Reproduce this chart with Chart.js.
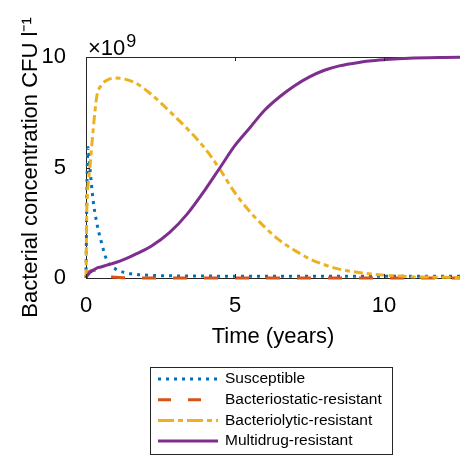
<!DOCTYPE html>
<html>
<head>
<meta charset="utf-8">
<script src="https://cdn.jsdelivr.net/npm/chart.js@4/dist/chart.umd.min.js"></script>
<style>
  body { margin: 0; background: #fff; overflow: hidden; }
</style>
</head>
<body>
<canvas id="grafico" width="460" height="456"></canvas>
<script>
// time in years
const tiempo = [0, 0.03, 0.07, 0.13, 0.24, 0.36, 0.5, 0.7, 1.0, 1.3, 1.7, 2.2, 2.8, 3.4, 4, 4.5, 5, 5.5, 6, 6.5, 7, 7.5, 8, 8.5, 9, 9.5, 10, 10.5, 11, 11.5, 12, 12.55];

// concentrations, x10^9 CFU/l
const susceptible = [0, 4.0, 5.9, 5.0, 3.5, 2.5, 1.7, 0.8, 0.4, 0.25, 0.16, 0.12, 0.1, 0.09, 0.09, 0.08, 0.08, 0.08, 0.08, 0.08, 0.08, 0.08, 0.08, 0.08, 0.08, 0.08, 0.08, 0.08, 0.08, 0.08, 0.08, 0.08];
const bacteriostatic = [0, 0.15, 0.25, 0.3, 0.35, 0.35, 0.25, 0.1, 0.03, 0.01, 0, 0, 0, 0, 0, 0, 0, 0, 0, 0, 0, 0, 0, 0, 0, 0, 0, 0, 0, 0, 0, 0];
const bacteriolytic = [0, 3.3, 4.2, 5.0, 6.7, 8.2, 8.7, 8.95, 9.05, 9.0, 8.8, 8.3, 7.55, 6.75, 5.85, 4.9, 3.85, 3.0, 2.3, 1.7, 1.25, 0.87, 0.6, 0.4, 0.28, 0.19, 0.13, 0.09, 0.05, 0.04, 0.03, 0.02];
const multidrug = [0, 0.08, 0.15, 0.25, 0.35, 0.45, 0.5, 0.58, 0.7, 0.85, 1.1, 1.45, 2.05, 2.9, 4.0, 5.0, 6.0, 6.8, 7.6, 8.2, 8.7, 9.1, 9.4, 9.6, 9.72, 9.82, 9.88, 9.92, 9.95, 9.97, 9.98, 9.99];

const etiquetas = ['Susceptible', 'Bacteriostatic-resistant', 'Bacteriolytic-resistant', 'Multidrug-resistant'];
const ticksX = [0, 5, 10];
const ticksY = [0, 5, 10];

const fuente = '"Liberation Sans", Arial, Helvetica, sans-serif';
const ejeColor = '#262626';

function puntos(valores) {
  return tiempo.map((t, i) => ({ x: t, y: valores[i] }));
}

// legend box drawn like the MATLAB one
const leyendaPlugin = {
  id: 'leyenda',
  afterDraw(chart) {
    const ctx = chart.ctx;
    const x0 = 150, y0 = 367, w = 242, h = 87;
    ctx.save();
    ctx.fillStyle = '#fff';
    ctx.fillRect(x0, y0, w, h);
    ctx.strokeStyle = ejeColor;
    ctx.lineWidth = 1;
    ctx.strokeRect(x0 + 0.5, y0 + 0.5, w, h);
    chart.data.datasets.forEach((ds, i) => {
      const y = y0 + 12 + i * 20.7;
      ctx.strokeStyle = ds.borderColor;
      ctx.lineWidth = ds.borderWidth;
      ctx.setLineDash(ds.legendDash || ds.borderDash || []);
      ctx.beginPath();
      ctx.moveTo(x0 + 8, y);
      ctx.lineTo(x0 + 68, y);
      ctx.stroke();
      ctx.setLineDash([]);
      ctx.fillStyle = '#000';
      ctx.font = '15.5px ' + fuente;
      ctx.textBaseline = 'middle';
      ctx.textAlign = 'left';
      ctx.fillText(ds.label, x0 + 75, y);
    });
    ctx.restore();
  }
};

// x10^9 exponent label and inward tick marks
const ejesPlugin = {
  id: 'ejes',
  afterDraw(chart) {
    const ctx = chart.ctx;
    const area = chart.chartArea;
    const sx = chart.scales.x, sy = chart.scales.y;
    ctx.save();
    ctx.strokeStyle = ejeColor;
    ctx.lineWidth = 1;
    ticksX.forEach(v => {
      const px = Math.round(sx.getPixelForValue(v)) + 0.5;
      ctx.beginPath();
      ctx.moveTo(px, area.bottom);
      ctx.lineTo(px, area.bottom - 4);
      ctx.moveTo(px, area.top);
      ctx.lineTo(px, area.top + 4);
      ctx.stroke();
    });
    ticksY.forEach(v => {
      const py = Math.round(sy.getPixelForValue(v)) + 0.5;
      ctx.beginPath();
      ctx.moveTo(area.left, py);
      ctx.lineTo(area.left + 4, py);
      ctx.stroke();
    });
    ctx.fillStyle = '#000';
    ctx.textBaseline = 'alphabetic';
    ctx.textAlign = 'left';
    ctx.font = '22px ' + fuente;
    ctx.fillText('\u00d710', area.left + 2, area.top - 2);
    const ancho = ctx.measureText('\u00d710').width;
    ctx.font = '18px ' + fuente;
    ctx.fillText('9', area.left + 2 + ancho + 1, area.top - 10);
    ctx.restore();
  }
};

const ctx = document.getElementById('grafico').getContext('2d');
new Chart(ctx, {
  type: 'line',
  data: {
    datasets: [
      { label: etiquetas[0], data: puntos(susceptible), borderColor: '#0072BD', borderWidth: 3, borderDash: [3, 5], clip: 8, order: 4 },
      { label: etiquetas[1], data: puntos(bacteriostatic), borderColor: '#D95319', borderWidth: 3, borderDash: [14, 17], legendDash: [13, 17], clip: 8, order: 3 },
      { label: etiquetas[2], data: puntos(bacteriolytic), borderColor: '#EDB120', borderWidth: 3, borderDash: [9, 4, 5, 4], legendDash: [16, 4, 5, 4], clip: 8, order: 2 },
      { label: etiquetas[3], data: puntos(multidrug), borderColor: '#7E2F8E', borderWidth: 3, clip: 8, order: 1 }
    ]
  },
  options: {
    responsive: false,
    animation: false,
    layout: { padding: { left: 0, right: 0, top: 0, bottom: 102 } },
    elements: {
      point: { radius: 0 },
      line: { cubicInterpolationMode: 'monotone', fill: false }
    },
    plugins: {
      legend: { display: false },
      tooltip: { enabled: false }
    },
    scales: {
      x: {
        type: 'linear',
        position: 'bottom',
        min: 0,
        max: 12.55,
        afterFit: s => { s.height = 76; },
        grid: { display: false },
        border: { display: true, color: ejeColor, width: 1 },
        ticks: {
          stepSize: 5,
          includeBounds: false,
          padding: 7,
          color: '#000',
          font: { family: fuente, size: 22 },
          maxRotation: 0
        },
        title: {
          display: true,
          text: 'Time (years)',
          color: '#000',
          font: { family: fuente, size: 22 },
          padding: { top: 0, bottom: 4 }
        }
      },
      arriba: {
        type: 'linear',
        position: 'top',
        min: 0,
        max: 12.55,
        afterFit: s => { s.height = 57; },
        grid: { display: false },
        border: { display: true, color: ejeColor, width: 1 },
        ticks: { display: false }
      },
      y: {
        type: 'linear',
        min: 0,
        max: 10,
        afterFit: s => { s.width = 86; },
        grid: { display: false },
        border: { display: true, color: ejeColor, width: 1 },
        ticks: {
          stepSize: 5,
          padding: 12,
          color: '#000',
          font: { family: fuente, size: 22 }
        },
        title: {
          display: true,
          text: 'Bacterial concentration CFU l\u207b\u00b9',
          color: '#000',
          font: { family: fuente, size: 22 },
          padding: { top: 18, bottom: 0 }
        }
      }
    }
  },
  plugins: [leyendaPlugin, ejesPlugin]
});
</script>
</body>
</html>
